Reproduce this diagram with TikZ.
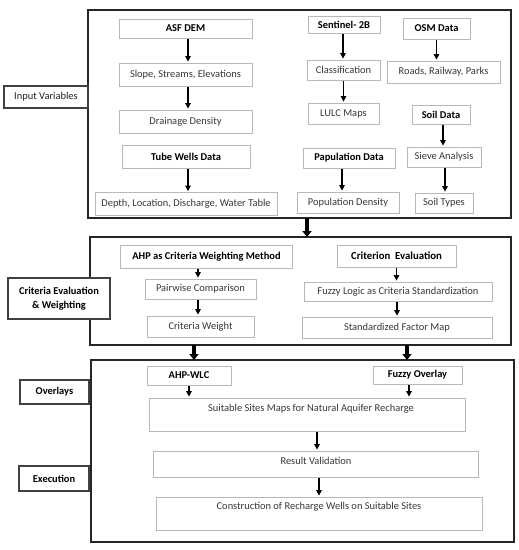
\documentclass[tikz,border=0pt]{standalone}
\usepackage{fontspec}
\setmainfont{Carlito}
\usetikzlibrary{arrows.meta,calc}
\definecolor{txtgray}{rgb}{0.22,0.22,0.22}
\definecolor{boxgray}{rgb}{0.72,0.72,0.72}
\begin{document}
\begin{tikzpicture}[x=1bp,y=-1bp,
  ibox/.style={draw=boxgray, line width=0.8bp, fill=white, inner sep=0pt, text=txtgray, font=\fontsize{10.5}{12}\selectfont},
  bbox/.style={ibox, text=black, font=\fontsize{10.5}{12}\selectfont\bfseries},
  outbox/.style={draw=black!85, line width=1.5bp},
  labbox/.style={draw=black!75, line width=1.1bp, fill=white, inner sep=0pt, text=black, align=center},
  txt/.style={inner sep=0pt, text=txtgray, font=\fontsize{10.5}{12}\selectfont},
  arr/.style={line width=1.3bp, -{Triangle[width=5.5bp,length=5.5bp]}, shorten <=1bp, shorten >=1bp},
  bigarr/.style={line width=3.5bp, -{Triangle[width=9bp,length=6bp]}}
]
\useasboundingbox (0,0) rectangle (519,550);
\fill[white] (0,0) rectangle (519,550);

% ---------- outer frames ----------
\draw[outbox] (88,10) rectangle (511,218);
\coordinate (o1b) at (307,218);
\draw[outbox] (90,237) rectangle (511,345);
\coordinate (o2t) at (307,237);
\coordinate (o2bl) at (194,345);
\coordinate (o2br) at (407,345);
\draw[outbox] (91,360) rectangle (514,542);
\coordinate (o3tl) at (194,360);
\coordinate (o3tr) at (407,360);

% ---------- side labels ----------
\node[labbox, font=\fontsize{10.5}{12}\selectfont, text=txtgray!60!black, minimum width=84bp, minimum height=22bp] (inlab) at (46,97) {Input Variables};
\node[labbox, font=\fontsize{10.5}{13.5}\selectfont\bfseries, minimum width=102bp, minimum height=41bp] (critlab) at (59,298.5) {Criteria Evaluation\\\& Weighting};
\node[labbox, font=\fontsize{10.5}{12}\selectfont\bfseries, minimum width=69bp, minimum height=24bp] (ovlab) at (54.5,392) {Overlays};
\node[labbox, font=\fontsize{10.5}{12}\selectfont\bfseries, minimum width=70bp, minimum height=25bp] (exlab) at (54,478.5) {Execution};

% ---------- input variables ----------
\node[bbox, minimum width=133bp, minimum height=19bp] (asf) at (185.5,28.5) {ASF DEM};
\node[ibox, minimum width=133bp, minimum height=23bp] (slope) at (185.5,74.5) {Slope, Streams, Elevations};
\node[ibox, minimum width=133bp, minimum height=23bp] (drain) at (185.5,121.5) {Drainage Density};
\node[bbox, minimum width=128bp, minimum height=23bp] (tube) at (186,156.5) {Tube Wells Data};
\node[ibox, minimum width=182bp, minimum height=23bp] (depth) at (186,204) {Depth, Location, Discharge, Water Table};

\node[bbox, minimum width=72bp, minimum height=17bp] (sent) at (344,24.5) {Sentinel- 2B};
\node[ibox, minimum width=73bp, minimum height=20bp] (class) at (343.5,70) {Classification};
\node[ibox, minimum width=71bp, minimum height=21bp] (lulc) at (343.5,113.5) {LULC Maps};

\node[bbox, minimum width=67bp, minimum height=21bp] (osm) at (436.5,28.5) {OSM Data};
\node[ibox, minimum width=113bp, minimum height=22bp] (roads) at (443.5,72) {Roads, Railway, Parks};
\node[bbox, minimum width=58bp, minimum height=19bp] (soil) at (441,114.5) {Soil Data};
\node[ibox, minimum width=74bp, minimum height=20bp] (sieve) at (444,157) {Sieve Analysis};
\node[ibox, minimum width=58bp, minimum height=20bp] (soilt) at (444,203) {Soil Types};

\node[bbox, minimum width=92bp, minimum height=20bp] (papu) at (349,158) {Papulation Data};
\node[ibox, minimum width=102bp, minimum height=21bp] (popd) at (348,202.5) {Population Density};

\draw[arr] ([xshift=2.5bp]asf.south) -- ([xshift=2.5bp]asf.south |- slope.north);
\draw[arr] ([xshift=2.5bp]slope.south) -- ([xshift=2.5bp]slope.south |- drain.north);
\draw[arr] ([xshift=2bp]tube.south) -- ([xshift=2bp]tube.south |- depth.north);
\draw[arr] ([xshift=-1bp]sent.south) -- ([xshift=-1bp]sent.south |- class.north);
\draw[arr] (class.south) -- (class.south |- lulc.north);
\draw[arr] (osm.south) -- (osm.south |- roads.north);
\draw[arr] ([xshift=2bp]soil.south) -- ([xshift=2bp]soil.south |- sieve.north);
\draw[arr] ([xshift=1bp]sieve.south) -- ([xshift=1bp]sieve.south |- soilt.north);
\draw[arr] ([xshift=-7bp]papu.south) -- ([xshift=-7bp]papu.south |- popd.north);

% ---------- criteria evaluation ----------
\node[bbox, minimum width=172bp, minimum height=23bp] (ahp) at (206.5,256.5) {AHP as Criteria Weighting Method};
\node[ibox, minimum width=111bp, minimum height=20bp] (pair) at (200.5,289) {Pairwise Comparison};
\node[ibox, minimum width=107bp, minimum height=21bp] (critw) at (200.5,326.5) {Criteria Weight};
\node[bbox, font=\fontsize{10.8}{12}\selectfont\bfseries, minimum width=119bp, minimum height=22bp] (crit) at (396.5,256) {Criterion\ \ Evaluation};
\node[ibox, minimum width=188bp, minimum height=19bp] (fuzzy) at (398,291.5) {Fuzzy Logic as Criteria Standardization};
\node[ibox, minimum width=190bp, minimum height=21bp] (stdf) at (397,327.5) {Standardized Factor Map};

\draw[arr] ([xshift=-8.5bp]ahp.south) -- ([xshift=-8.5bp]ahp.south |- pair.north);
\draw[arr] ([xshift=-2.5bp]pair.south) -- ([xshift=-2.5bp]pair.south |- critw.north);
\draw[arr] (crit.south) -- (crit.south |- fuzzy.north);
\draw[arr] ([xshift=-1bp]fuzzy.south) -- ([xshift=-1bp]fuzzy.south |- stdf.north);

% ---------- overlays & execution ----------
\node[bbox, minimum width=84bp, minimum height=19bp] (ahpwlc) at (189,375.5) {AHP-WLC};
\node[bbox, minimum width=89bp, minimum height=18bp] (fuzov) at (417.5,375) {Fuzzy Overlay};
\node[ibox, minimum width=316bp, minimum height=33bp] (suit) at (307,414.5) {};
\node[txt] (suitT) at (311,409) {Suitable Sites Maps for Natural Aquifer Recharge};
\node[ibox, minimum width=325bp, minimum height=26bp] (resval) at (315.5,464) {};
\node[txt] (resvalT) at (316,461) {Result Validation};
\node[ibox, minimum width=326bp, minimum height=33bp] (constr) at (319,513.5) {};
\node[txt] (constrT) at (319,507) {Construction of Recharge Wells on Suitable Sites};

\draw[arr] (ahpwlc.south) -- (ahpwlc.south |- suit.north);
\draw[arr] ([xshift=-8.5bp]fuzov.south) -- ([xshift=-8.5bp]fuzov.south |- suit.north);
\draw[arr] ([xshift=10bp]suit.south) -- ([xshift=10bp]suit.south |- resval.north);
\draw[arr] ([xshift=3.5bp]resval.south) -- ([xshift=3.5bp]resval.south |- constr.north);

% ---------- thick arrows between frames ----------
\draw[bigarr] (o1b) -- (o2t);
\draw[bigarr] (o2bl) -- (o3tl);
\draw[bigarr] (o2br) -- (o3tr);
\end{tikzpicture}
\end{document}
